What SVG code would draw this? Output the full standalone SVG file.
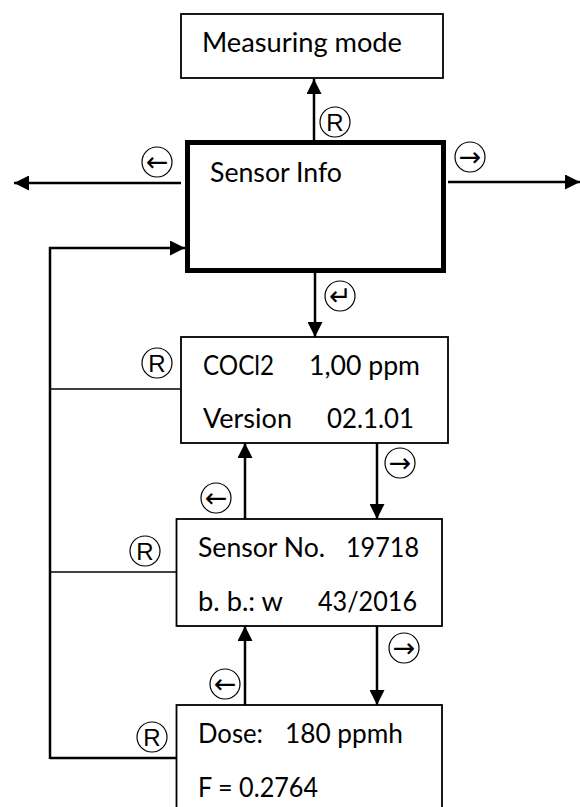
<svg xmlns="http://www.w3.org/2000/svg" width="580" height="807" viewBox="0 0 580 807">
<defs>
<marker id="ah" markerUnits="userSpaceOnUse" markerWidth="15" markerHeight="15" refX="15" refY="7.5" orient="auto">
<path d="M0,0 L15,7.5 L0,15 z" fill="#000"/>
</marker>
</defs>
<style>
.box{fill:#fff;stroke:#000;stroke-width:1.8}
.bold{fill:#fff;stroke:#000;stroke-width:5}
.t{font-family:Lato,"Liberation Sans",sans-serif;font-size:26px;fill:#000}
.c{fill:#fff;stroke:#000;stroke-width:1.2}
.r{font-family:"Liberation Sans",Arial,sans-serif;font-size:24px;fill:#000;text-anchor:middle}
.a{font-family:"DejaVu Sans",sans-serif;font-size:27px;fill:#000;text-anchor:middle}
.ln{fill:none;stroke:#000;stroke-width:2.5}
.thin{fill:none;stroke:#000;stroke-width:1.5}
</style>
<rect width="580" height="807" fill="#fff"/>
<g id="connectors">
<line class="ln" x1="314" y1="140" x2="314" y2="79" marker-end="url(#ah)"/>
<line class="ln" x1="181" y1="183" x2="14" y2="183" marker-end="url(#ah)"/>
<line class="ln" x1="448" y1="182" x2="580" y2="182" marker-end="url(#ah)"/>
<polyline class="ln" points="50,759 50,248 185,248" marker-end="url(#ah)"/>
<line class="thin" x1="50" y1="389" x2="181" y2="389"/>
<line class="thin" x1="50" y1="572" x2="176" y2="572"/>
<line class="ln" x1="50" y1="758" x2="176" y2="758"/>
<line class="ln" x1="315" y1="273" x2="315" y2="337" marker-end="url(#ah)"/>
<line class="ln" x1="377" y1="443" x2="377" y2="519" marker-end="url(#ah)"/>
<line class="ln" x1="245" y1="519" x2="245" y2="443" marker-end="url(#ah)"/>
<line class="ln" x1="377" y1="626" x2="377" y2="705" marker-end="url(#ah)"/>
<line class="ln" x1="245" y1="705" x2="245" y2="626" marker-end="url(#ah)"/>
</g>
<g id="measuring">
<rect class="box" x="181" y="14" width="262" height="64"/>
<text class="t" x="202" y="52" textLength="200" lengthAdjust="spacingAndGlyphs">Measuring mode</text>
</g>
<g id="sensorinfo">
<rect class="bold" x="187.5" y="142.5" width="256" height="128"/>
<text class="t" x="210" y="182" textLength="132" lengthAdjust="spacingAndGlyphs">Sensor Info</text>
</g>
<g id="cocl2">
<rect class="box" x="181" y="337" width="267" height="106"/>
<text class="t" x="203" y="375" textLength="71" lengthAdjust="spacingAndGlyphs">COCl2</text>
<text class="t" x="309" y="375" textLength="111" lengthAdjust="spacingAndGlyphs">1,00 ppm</text>
<text class="t" x="203" y="428" textLength="89" lengthAdjust="spacingAndGlyphs">Version</text>
<text class="t" x="327" y="428" textLength="87" lengthAdjust="spacingAndGlyphs">02.1.01</text>
</g>
<g id="sensorno">
<rect class="box" x="176.5" y="519" width="265.5" height="107"/>
<text class="t" x="198" y="557" textLength="127" lengthAdjust="spacingAndGlyphs">Sensor No.</text>
<text class="t" x="346" y="557" textLength="73" lengthAdjust="spacingAndGlyphs">19718</text>
<text class="t" x="198" y="611" textLength="85" lengthAdjust="spacingAndGlyphs">b. b.: w</text>
<text class="t" x="318" y="611" textLength="99" lengthAdjust="spacingAndGlyphs">43/2016</text>
</g>
<g id="dose">
<rect class="box" x="176.5" y="705" width="265.5" height="130"/>
<text class="t" x="198" y="743" textLength="65" lengthAdjust="spacingAndGlyphs">Dose:</text>
<text class="t" x="285" y="743" textLength="118" lengthAdjust="spacingAndGlyphs">180 ppmh</text>
<text class="t" x="198" y="797" textLength="120" lengthAdjust="spacingAndGlyphs">F = 0.2764</text>
</g>
<g id="keys">
<circle class="c" cx="335" cy="122" r="15"/><text class="r" x="335" y="131">R</text>
<circle class="c" cx="157" cy="162" r="15"/><text class="a" x="157" y="171">←</text>
<circle class="c" cx="470" cy="157" r="15"/><text class="a" x="470" y="166">→</text>
<circle class="c" cx="340" cy="296" r="15"/><text class="a" x="340" y="305">↵</text>
<circle class="c" cx="157" cy="363" r="15"/><text class="r" x="157" y="372">R</text>
<circle class="c" cx="216" cy="498" r="15"/><text class="a" x="216" y="507">←</text>
<circle class="c" cx="400" cy="463" r="15"/><text class="a" x="400" y="472">→</text>
<circle class="c" cx="145" cy="551" r="15"/><text class="r" x="145" y="560">R</text>
<circle class="c" cx="225" cy="684" r="15"/><text class="a" x="225" y="693">←</text>
<circle class="c" cx="404" cy="648" r="15"/><text class="a" x="404" y="657">→</text>
<circle class="c" cx="152" cy="737" r="15"/><text class="r" x="152" y="746">R</text>
</g>
</svg>
